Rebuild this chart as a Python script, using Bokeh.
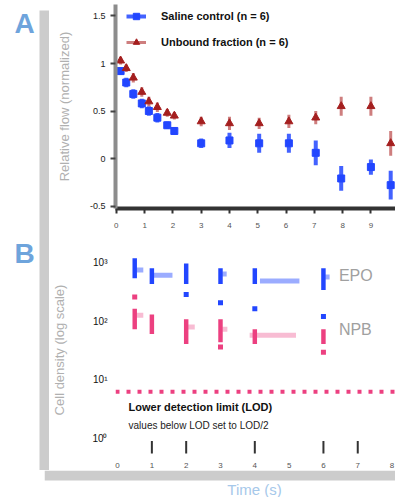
from bokeh.plotting import figure
from bokeh.models import (ColumnDataSource, Legend, LegendItem, Label, Span,
                          BoxAnnotation, FixedTicker, NumeralTickFormatter, Spacer)
from bokeh.layouts import column, row
from bokeh.embed import file_html
from bokeh.resources import INLINE

NaN = float("nan")
FONT = "Liberation Sans"

# ---------------- Panel A data ----------------
a_time = [0.15, 0.35, 0.6, 0.9, 1.15, 1.45, 1.8, 2.05, 3.0, 4.0, 5.05, 6.1, 7.05, 7.95, 9.0, 9.7]
a_blue = [0.92, 0.80, 0.68, 0.58, 0.50, 0.43, 0.35, 0.29, 0.16, 0.19, 0.16, 0.16, 0.06, -0.21, -0.09, -0.28]
a_blue_err = [0.04, 0.05, 0.05, 0.05, 0.05, 0.05, 0.04, 0.04, 0.05, 0.08, 0.10, 0.10, 0.13, 0.13, 0.08, 0.15]
a_red = [1.03, 0.95, 0.85, 0.70, 0.60, 0.54, 0.48, 0.45, 0.39, 0.37, 0.37, 0.39, 0.43, 0.55, 0.55, 0.16]
a_red_err = [0.04, 0.04, 0.05, 0.05, 0.05, 0.05, 0.04, 0.04, 0.05, 0.07, 0.06, 0.07, 0.07, 0.10, 0.10, 0.13]
a_xticks = [0, 1, 2, 3, 4, 5, 6, 7, 8, 9]
a_yticks = [-0.5, 0, 0.5, 1, 1.5]
a_series = ["Saline control (n = 6)", "Unbound fraction (n = 6)"]

# ---------------- Panel B data ----------------
b_x = [0.5, 1, 2, 3, 4, 6]
epo_lo = [2.73, 2.63, 2.63, 2.63, 2.63, 2.53]
epo_hi = [3.07, 2.90, 2.98, 2.90, 2.90, 2.90]
epo_mid = [2.87, 2.78, NaN, 2.80, 2.68, 2.75]
epo_w0 = [0.55, 1.05, NaN, 3.05, 4.15, 6.05]
epo_w1 = [0.75, 1.60, NaN, 3.18, 5.30, 6.18]
epo_min = [NaN, NaN, 2.45, 2.31, 2.21, 2.08]

npb_lo = [1.86, 1.78, 1.61, 1.64, 1.61, 1.61]
npb_hi = [2.21, 2.11, 2.03, 2.03, 1.86, 1.86]
npb_mid = [2.10, NaN, 1.90, 1.86, 1.76, NaN]
npb_w0 = [0.55, NaN, 2.05, 3.05, 3.85, NaN]
npb_w1 = [0.75, NaN, 2.25, 3.20, 5.20, NaN]
npb_out = [2.41, NaN, NaN, 1.56, NaN, 1.47]

events_x = [1, 2, 4, 6, 7]
threshold = 0.80
b_xticks = [0, 1, 2, 3, 4, 5, 6, 7, 8]
b_yticks = [0, 1, 2, 3]
b_ylabels = {0: "10\u2070", 1: "10\u00b9", 2: "10\u00b2", 3: "10\u00b3"}

BLUE = "#2246ff"
RED = "#a41f1f"
PINK = "#ec4080"
LBLUE = "#6ea4dc"
GRAYBAR = "#cccccc"

# ---------------- Panel A ----------------
pA = figure(width=346, height=240, x_range=(-0.03, 9.87), y_range=(-0.526, 1.621),
            output_backend="svg", toolbar_location=None, title=None,
            min_border_left=63, min_border_right=0, min_border_top=4, min_border_bottom=32)
pA.grid.visible = False
pA.outline_line_color = None

srcA = ColumnDataSource(dict(
    t=a_time, b=a_blue, r=a_red,
    blo=[v - e for v, e in zip(a_blue, a_blue_err)],
    bhi=[v + e for v, e in zip(a_blue, a_blue_err)],
    rlo=[v - e for v, e in zip(a_red, a_red_err)],
    rhi=[v + e for v, e in zip(a_red, a_red_err)],
))
b_err = pA.segment(x0="t", y0="blo", x1="t", y1="bhi", source=srcA,
                   line_color=BLUE, line_width=4, line_alpha=0.85)
b_pts = pA.scatter("t", "b", source=srcA, marker="square", size=7,
                   fill_color=BLUE, line_color=BLUE)
r_err = pA.segment(x0="t", y0="rlo", x1="t", y1="rhi", source=srcA,
                   line_color="#c97070", line_width=3, line_alpha=0.9)
r_pts = pA.scatter("t", "r", source=srcA, marker="triangle", size=8,
                   fill_color=RED, line_color=RED)

xa = pA.xaxis[0]
xa.ticker = FixedTicker(ticks=a_xticks)
xa.axis_line_color = "#333333"
xa.axis_line_width = 4
xa.major_tick_line_color = "#333333"
xa.major_tick_line_width = 2
xa.major_tick_out = 5
xa.major_tick_in = 0
xa.minor_tick_line_color = None
xa.major_label_text_font = FONT
xa.major_label_text_font_size = "8px"
xa.major_label_text_color = "#555555"
xa.major_label_standoff = 9

ya = pA.yaxis[0]
ya.ticker = FixedTicker(ticks=a_yticks)
ya.formatter = NumeralTickFormatter(format="0.[0]")
ya.axis_line_color = "#8c8c8c"
ya.axis_line_width = 4
ya.major_tick_line_color = "#444444"
ya.major_tick_line_width = 2
ya.major_tick_out = 5
ya.major_tick_in = 0
ya.minor_tick_line_color = None
ya.major_label_text_font = FONT
ya.major_label_text_font_size = "9px"
ya.major_label_text_color = "#222222"
ya.major_label_standoff = 5
ya.axis_label = "Relative flow (normalized)"
ya.axis_label_text_font = FONT
ya.axis_label_text_font_size = "13px"
ya.axis_label_text_font_style = "normal"
ya.axis_label_text_color = "#b0b0b0"
ya.axis_label_standoff = 15

legend = Legend(items=[LegendItem(label=a_series[0], renderers=[b_err, b_pts]),
                       LegendItem(label=a_series[1], renderers=[r_err, r_pts])],
                location=(11, 158), orientation="vertical",
                background_fill_alpha=0, border_line_color=None,
                label_text_font=FONT, label_text_font_size="11px",
                label_text_font_style="bold", label_text_color="#111111",
                glyph_width=20, glyph_height=16, label_height=16, label_standoff=15,
                spacing=10, padding=0, margin=0)
pA.add_layout(legend)

# ---------------- Panel B ----------------
pB = figure(width=346, height=230, x_range=(-0.06, 8.1), y_range=(-0.268, 3.285),
            output_backend="svg", toolbar_location=None, title=None,
            min_border_left=66, min_border_right=0, min_border_top=5, min_border_bottom=13)
pB.grid.visible = False
pB.outline_line_color = None

srcB = ColumnDataSource(dict(
    x=b_x, epo_lo=epo_lo, epo_hi=epo_hi, epo_mid=epo_mid, epo_w0=epo_w0, epo_w1=epo_w1,
    epo_min=epo_min, npb_lo=npb_lo, npb_hi=npb_hi, npb_mid=npb_mid, npb_w0=npb_w0,
    npb_w1=npb_w1, npb_out=npb_out))

pB.segment(x0="epo_w0", y0="epo_mid", x1="epo_w1", y1="epo_mid", source=srcB,
           line_color=BLUE, line_width=5, line_alpha=0.45)
pB.vbar(x="x", bottom="epo_lo", top="epo_hi", width=0.13, source=srcB,
        fill_color=BLUE, line_color=None)
pB.scatter("x", "epo_min", source=srcB, marker="square", size=5,
           fill_color=BLUE, line_color=None)

pB.segment(x0="npb_w0", y0="npb_mid", x1="npb_w1", y1="npb_mid", source=srcB,
           line_color=PINK, line_width=5, line_alpha=0.35)
pB.vbar(x="x", bottom="npb_lo", top="npb_hi", width=0.13, source=srcB,
        fill_color=PINK, line_color=None)
pB.scatter("x", "npb_out", source=srcB, marker="square", size=5,
           fill_color=PINK, line_color=None)

srcE = ColumnDataSource(dict(x=events_x))
pB.segment(x0="x", y0=-0.25, x1="x", y1=-0.04, source=srcE,
           line_color="#333333", line_width=2)

pB.add_layout(Span(location=threshold, dimension="width", line_color=PINK,
                   line_width=4, line_dash="4 7"))

pB.add_layout(Label(x=6.45, y=2.77, text="EPO", text_baseline="middle",
                    text_font=FONT, text_font_size="16px", text_color="#a0a0a0"))
pB.add_layout(Label(x=6.45, y=1.86, text="NPB", text_baseline="middle",
                    text_font=FONT, text_font_size="16px", text_color="#a0a0a0"))
pB.add_layout(Label(x=0.32, y=0.64, text="Lower detection limit (LOD)", text_baseline="top",
                    text_font=FONT, text_font_size="11px", text_font_style="bold",
                    text_color="#111111"))
pB.add_layout(Label(x=0.32, y=0.32, text="values below LOD set to LOD/2", text_baseline="top",
                    text_font=FONT, text_font_size="10px", text_color="#222222"))

xb = pB.xaxis[0]
xb.ticker = FixedTicker(ticks=b_xticks)
xb.axis_line_color = None
xb.major_tick_line_color = None
xb.minor_tick_line_color = None
xb.major_label_text_font = FONT
xb.major_label_text_font_size = "8px"
xb.major_label_text_color = "#555555"
xb.major_label_standoff = 2

yb = pB.yaxis[0]
yb.ticker = FixedTicker(ticks=b_yticks)
yb.major_label_overrides = b_ylabels
yb.axis_line_color = None
yb.major_tick_line_color = None
yb.minor_tick_line_color = None
yb.major_label_text_font = FONT
yb.major_label_text_font_size = "10px"
yb.major_label_text_color = "#111111"
yb.major_label_standoff = 2
yb.axis_label = "Cell density (log scale)"
yb.axis_label_text_font = FONT
yb.axis_label_text_font_size = "13px"
yb.axis_label_text_font_style = "normal"
yb.axis_label_text_color = "#b0b0b0"
yb.axis_label_standoff = 22

# ---------------- decorations: panel letters, L-frame, shared x label ----------------
pL = figure(width=49, height=470, x_range=(0, 49), y_range=(0, 470),
            output_backend="svg", toolbar_location=None, title=None,
            x_axis_location=None, y_axis_location=None, min_border=0)
pL.outline_line_color = None
pL.xgrid.visible = False
pL.ygrid.visible = False
pL.add_layout(BoxAnnotation(left=39, right=49, bottom=0, top=460,
                            fill_color=GRAYBAR, fill_alpha=1, line_color=None))
pL.add_layout(Label(x=24, y=463, text="A", text_align="center", text_baseline="top",
                    text_font=FONT, text_font_size="28px", text_font_style="bold",
                    text_color=LBLUE))
pL.add_layout(Label(x=24, y=233, text="B", text_align="center", text_baseline="top",
                    text_font=FONT, text_font_size="28px", text_font_style="bold",
                    text_color=LBLUE))

pX = figure(width=351, height=27, x_range=(0, 351), y_range=(0, 27),
            output_backend="svg", toolbar_location=None, title=None,
            x_axis_location=None, y_axis_location=None, min_border=0)
pX.outline_line_color = None
pX.xgrid.visible = False
pX.ygrid.visible = False
pX.add_layout(BoxAnnotation(left=0, right=351, bottom=17, top=27,
                            fill_color=GRAYBAR, fill_alpha=1, line_color=None))
pX.add_layout(Label(x=210, y=0, text="Time (s)", text_align="center", text_baseline="bottom",
                    text_font=FONT, text_font_size="15px", text_color="#a6c8ea"))

layout = column(row(pL, column(pA, pB)), row(Spacer(width=44, height=27), pX))

open("out.html", "w").write(file_html(layout, INLINE))
